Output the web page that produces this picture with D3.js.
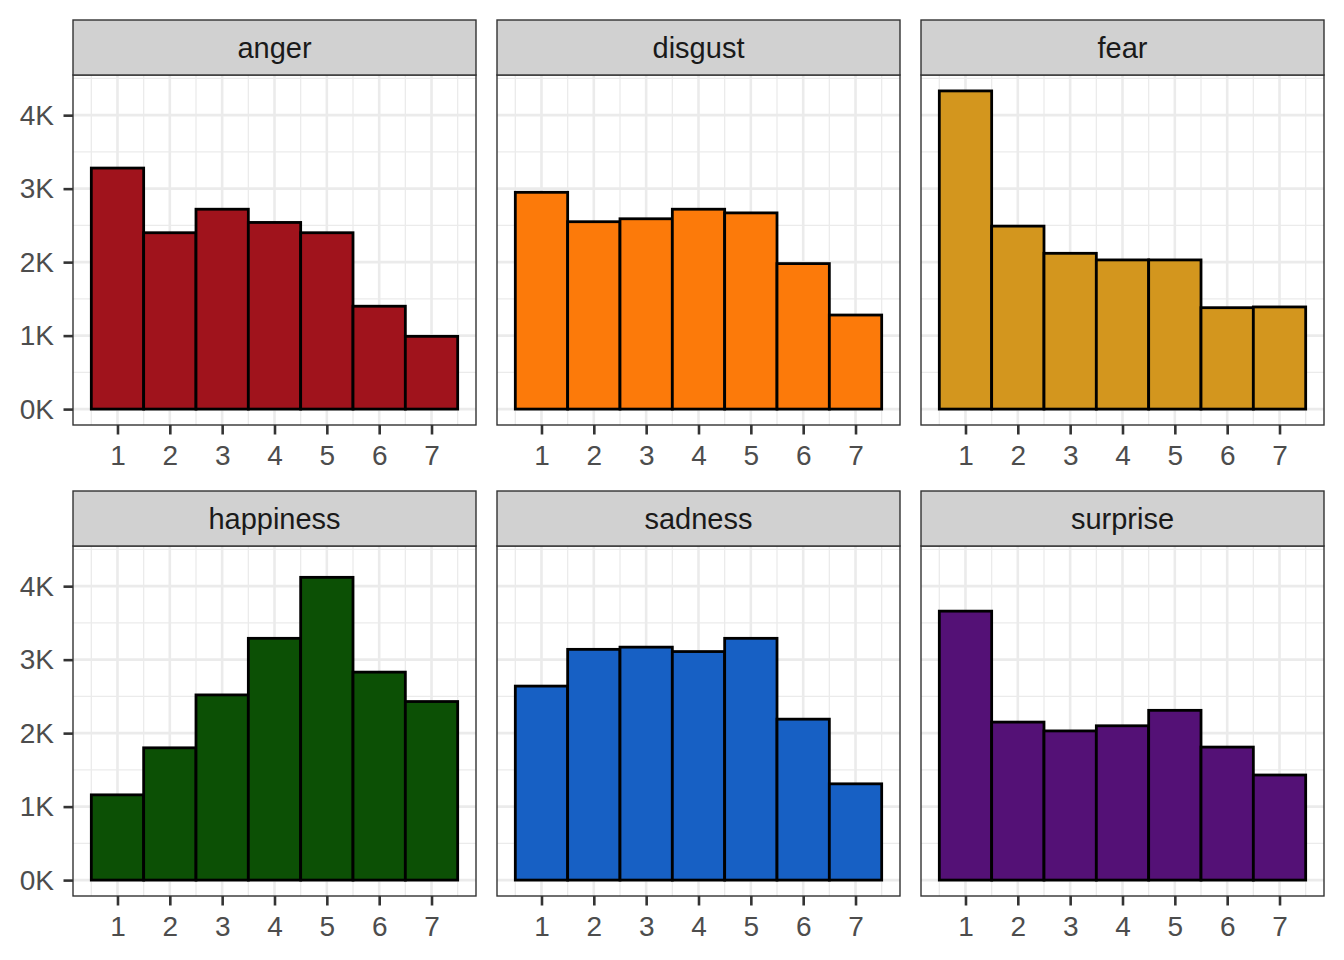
<!DOCTYPE html>
<html>
<head>
<meta charset="utf-8">
<script src="https://cdn.jsdelivr.net/npm/d3@7"></script>
<style>
  body { margin: 0; background: #fff; }
  text { font-family: "Liberation Sans", Arial, sans-serif; }
</style>
</head>
<body>
<script>
// facet names, ratings and counts (thousands)
var emotions = ["anger", "disgust", "fear", "happiness", "sadness", "surprise"];
var ratings = [1, 2, 3, 4, 5, 6, 7];
var colors = ["#A0131C", "#FC7A0A", "#D3961E", "#0C5005", "#1760C4", "#541176"];
var anger = [3.28, 2.40, 2.72, 2.54, 2.40, 1.40, 0.99];
var disgust = [2.95, 2.55, 2.59, 2.72, 2.67, 1.98, 1.28];
var fear = [4.33, 2.49, 2.12, 2.03, 2.03, 1.38, 1.39];
var happiness = [1.16, 1.80, 2.52, 3.29, 4.12, 2.83, 2.43];
var sadness = [2.64, 3.14, 3.17, 3.11, 3.29, 2.19, 1.31];
var surprise = [3.66, 2.15, 2.03, 2.10, 2.31, 1.81, 1.43];
var yTicks = [0, 1, 2, 3, 4];

var series = [anger, disgust, fear, happiness, sadness, surprise];

var W = 1344, H = 960;
var colX = [73, 497, 921], panelW = 403;
var rowY = [20, 491], stripH = 55, panelH = 350;

var svg = d3.select("body").append("svg")
    .attr("width", W).attr("height", H);

var maxV = d3.max(series, function(s) { return d3.max(s); });
var pad = maxV * 0.05;
var y = d3.scaleLinear().domain([-pad, maxV + pad]).range([panelH, 0]);
var x = d3.scaleLinear().domain([0.15, 7.85]).range([0, panelW]);

emotions.forEach(function(name, i) {
    var col = i % 3, row = Math.floor(i / 3);
    var g = svg.append("g")
        .attr("transform", "translate(" + colX[col] + "," + (rowY[row] + stripH) + ")");

    // minor grid
    d3.range(0.5, 8, 1).forEach(function(v) {
        g.append("line").attr("x1", x(v)).attr("x2", x(v)).attr("y1", 0).attr("y2", panelH)
            .attr("stroke", "#EBEBEB").attr("stroke-width", 1.3);
    });
    d3.range(-0.5, 5, 1).forEach(function(v) {
        if (y(v) < 0 || y(v) > panelH) return;
        g.append("line").attr("y1", y(v)).attr("y2", y(v)).attr("x1", 0).attr("x2", panelW)
            .attr("stroke", "#EBEBEB").attr("stroke-width", 1.3);
    });
    // major grid
    ratings.forEach(function(v) {
        g.append("line").attr("x1", x(v)).attr("x2", x(v)).attr("y1", 0).attr("y2", panelH)
            .attr("stroke", "#EBEBEB").attr("stroke-width", 2.6);
    });
    yTicks.forEach(function(v) {
        g.append("line").attr("y1", y(v)).attr("y2", y(v)).attr("x1", 0).attr("x2", panelW)
            .attr("stroke", "#EBEBEB").attr("stroke-width", 2.6);
    });

    // bars
    g.selectAll("rect.bar").data(series[i]).enter().append("rect")
        .attr("class", "bar")
        .attr("x", function(d, j) { return x(ratings[j] - 0.5); })
        .attr("width", x(1.5) - x(0.5))
        .attr("y", function(d) { return y(d); })
        .attr("height", function(d) { return y(0) - y(d); })
        .attr("fill", colors[i])
        .attr("stroke", "#000").attr("stroke-width", 2.8);

    // panel border
    g.append("rect").attr("width", panelW).attr("height", panelH)
        .attr("fill", "none").attr("stroke", "#333").attr("stroke-width", 1.4);

    // x axis
    var xa = g.append("g").attr("transform", "translate(0," + panelH + ")")
        .call(d3.axisBottom(x).tickValues(ratings).tickSize(9.5).tickPadding(10.5));
    xa.select(".domain").remove();
    xa.selectAll("line").attr("stroke", "#333").attr("stroke-width", 2.6);
    xa.selectAll("text").attr("font-size", 28).attr("fill", "#4D4D4D")
        .attr("font-family", "Liberation Sans, Arial, sans-serif");

    // y axis only on first column
    if (col === 0) {
        var ya = g.append("g")
            .call(d3.axisLeft(y).tickValues(yTicks).tickSize(9.5).tickPadding(9.5)
                .tickFormat(function(d) { return d + "K"; }));
        ya.select(".domain").remove();
        ya.selectAll("line").attr("stroke", "#333").attr("stroke-width", 2.6);
        ya.selectAll("text").attr("font-size", 28).attr("fill", "#4D4D4D")
            .attr("font-family", "Liberation Sans, Arial, sans-serif");
    }

    // strip
    var s = svg.append("g").attr("transform", "translate(" + colX[col] + "," + rowY[row] + ")");
    s.append("rect").attr("width", panelW).attr("height", stripH)
        .attr("fill", "#D1D1D1").attr("stroke", "#333").attr("stroke-width", 1.4);
    s.append("text").attr("x", panelW / 2).attr("y", stripH / 2 + 10.5)
        .attr("text-anchor", "middle").attr("font-size", 29).attr("fill", "#1A1A1A")
        .text(name);
});
</script>
</body>
</html>
